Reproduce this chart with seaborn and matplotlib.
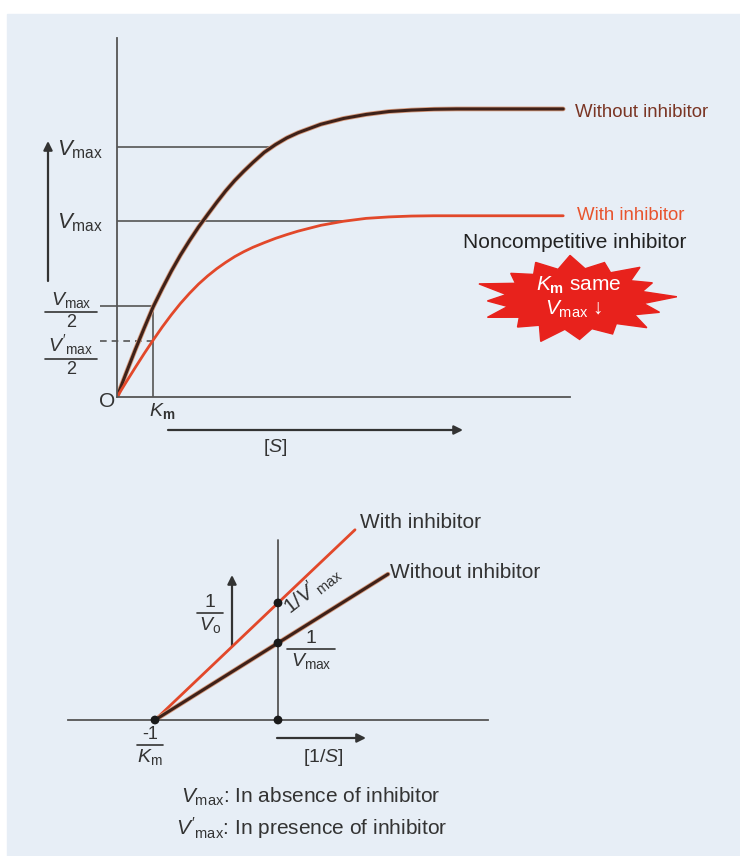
import numpy as np
import pandas as pd
import seaborn as sns
import matplotlib.pyplot as plt
import matplotlib.patches as patches
import matplotlib.patheffects as pe

# Michaelis-Menten curves, values (arbitrary units)
substrate = [0, 0.2, 0.4, 0.6, 0.8, 1.0, 1.2, 1.4, 1.6, 1.8, 2.0, 2.2, 2.4, 2.6, 2.8, 3.0,
             3.25, 3.5, 3.75, 4.0, 4.5, 5.0, 5.5, 6.0, 6.5, 7.0, 7.5, 9.85]
v_without = [0, 0.082, 0.162, 0.238, 0.312, 0.375, 0.435, 0.49, 0.54, 0.587, 0.63, 0.672,
             0.712, 0.748, 0.78, 0.81, 0.845, 0.872, 0.895, 0.913, 0.942, 0.962, 0.976,
             0.986, 0.991, 0.994, 0.995, 0.995]
v_with = [0, 0.051, 0.101, 0.15, 0.197, 0.242, 0.284, 0.323, 0.358, 0.39, 0.418, 0.443,
          0.465, 0.485, 0.502, 0.517, 0.533, 0.548, 0.561, 0.573, 0.593, 0.607, 0.617,
          0.622, 0.625, 0.626, 0.626, 0.626]
vmax_level = 0.862
vmax_i_level = 0.609
half_vmax = 0.314
half_vmax_i = 0.193
km = 0.8

# Lineweaver-Burk lines (1/S, 1/v)
recip_s_without = [-1.0, 0.0, 0.894]
recip_v_without = [0.0, 1.0, 1.894]
recip_s_with = [-1.0, 0.0, 0.626]
recip_v_with = [0.0, 1.52, 2.47]

W, H = 740, 856
DARK = '#3e2119'
RED = '#e2482a'
AX = '#555555'

sns.set_style('white')
plt.rcParams['font.family'] = ['Liberation Sans', 'DejaVu Sans']
plt.rcParams['mathtext.fontset'] = 'custom'
plt.rcParams['mathtext.rm'] = 'Liberation Sans'
plt.rcParams['mathtext.it'] = 'Liberation Sans:italic'
plt.rcParams['mathtext.bf'] = 'Liberation Sans:bold'

fig = plt.figure(figsize=(W / 100, H / 100), dpi=100)
fig.patch.set_facecolor('white')

# overlay in pixel units for background, labels and arrows
bg = fig.add_axes([0, 0, 1, 1])
bg.set_xlim(0, W)
bg.set_ylim(H, 0)
bg.axis('off')
bg.add_patch(patches.Rectangle((7, 14), W - 7, H - 14, color='#e7eef6', zorder=0))


def frac(x, ybar, num, den, half, fs_num=14, fs_den=14, color='#333333'):
    bg.plot([x - half, x + half], [ybar, ybar], color=color, lw=1.2)
    bg.text(x, ybar - 2, num, ha='center', va='bottom', fontsize=fs_num, color=color)
    bg.text(x, ybar + 2, den, ha='center', va='top', fontsize=fs_den, color=color)


def arrow(x0, y0, x1, y1):
    bg.annotate('', xy=(x1, y1), xytext=(x0, y0),
                arrowprops=dict(arrowstyle='-|>', color='#333333', lw=1.6,
                                mutation_scale=13, shrinkA=0, shrinkB=0))


# ---------- top: v vs [S] ----------
ax1 = fig.add_axes([117 / W, (H - 397) / H, 453 / W, 359 / H])
ax1.set_facecolor('none')
ax1.set_xlim(0, 10)
ax1.set_ylim(0, 1.24)
for s in ['top', 'right']:
    ax1.spines[s].set_visible(False)
for s in ['left', 'bottom']:
    ax1.spines[s].set_color(AX)
    ax1.spines[s].set_linewidth(1.3)
ax1.set_xticks([])
ax1.set_yticks([])

ax1.hlines(vmax_level, 0, 3.4, color=AX, lw=1.2)
ax1.hlines(vmax_i_level, 0, 5.0, color=AX, lw=1.2)
ax1.hlines(half_vmax, -0.375, km, color=AX, lw=1.2, clip_on=False)
ax1.hlines(half_vmax_i, -0.375, km, color=AX, lw=1.2, linestyles=(0, (4, 3)), clip_on=False)
ax1.vlines(km, 0, half_vmax, color=AX, lw=1.2)

halo = [pe.Stroke(linewidth=3.4, foreground='#d79a7c'), pe.Normal()]
sns.lineplot(x=substrate, y=v_without, ax=ax1, color=DARK, lw=2.2, sort=False,
             estimator=None, path_effects=halo)
sns.lineplot(x=substrate, y=v_with, ax=ax1, color=RED, lw=2.0, sort=False, estimator=None)

bg.text(80, 150, r'$V_{\rm max}$', ha='center', va='center', fontsize=16, color='#333333')
bg.text(80, 223, r'$V_{\rm max}$', ha='center', va='center', fontsize=16, color='#333333')
arrow(48, 281, 48, 141)
frac(71, 312, r'$V_{\rm max}$', '2', 26, 14, 13)
frac(71, 359, r"$V'_{\rm max}$", '2', 26, 14, 13)
bg.text(107, 401, 'O', ha='center', va='center', fontsize=15, color='#333333')
bg.text(162, 411, r'$K_{\bf m}$', ha='center', va='center', fontsize=14, color='#333333')
arrow(168, 430, 463, 430)
bg.text(275, 447, r'[$S$]', ha='center', va='center', fontsize=14, color='#333333')

bg.text(575, 112, 'Without inhibitor', ha='left', va='center', fontsize=13.4, color='#7a3524')
bg.text(577, 215, 'With inhibitor', ha='left', va='center', fontsize=13.4, color='#e8542e')
bg.text(575, 242, 'Noncompetitive inhibitor', ha='center', va='center', fontsize=15,
        color='#222222')

# starburst
n = 16
outer = [1.0, 0.84, 0.95, 0.86, 0.97, 0.9, 0.85, 1.0, 0.86, 0.95, 0.84, 1.0, 0.9, 0.86,
         0.95, 0.88]
ang = np.linspace(0, 2 * np.pi, 2 * n, endpoint=False) + 0.05
rad = np.empty(2 * n)
rad[0::2] = outer
rad[1::2] = 0.68
pts = np.column_stack([575 + 102 * rad * np.cos(ang), 299 - 45 * rad * np.sin(ang)])
bg.add_patch(patches.Polygon(pts, closed=True, color='#e8221c', zorder=2))
bg.text(579, 285, r'$K_{\bf m}$ same', ha='center', va='center', fontsize=15,
        color='white', zorder=3)
bg.text(574, 309, r'$V_{\rm max}$ ↓', ha='center', va='center', fontsize=15,
        color='white', zorder=3)

# ---------- bottom: Lineweaver-Burk ----------
ax2 = fig.add_axes([68 / W, (H - 720) / H, 420 / W, 200 / H])
ax2.set_facecolor('none')
ax2.set_xlim(-1.707, 1.707)
ax2.set_ylim(0, 2.597)
for s in ['top', 'right', 'left']:
    ax2.spines[s].set_visible(False)
ax2.spines['bottom'].set_color(AX)
ax2.spines['bottom'].set_linewidth(1.3)
ax2.set_xticks([])
ax2.set_yticks([])
ax2.axvline(0, ymin=0, ymax=2.34 / 2.597, color=AX, lw=1.3)

sns.lineplot(x=recip_s_with, y=recip_v_with, ax=ax2, color=RED, lw=2.0, sort=False,
             estimator=None)
sns.lineplot(x=recip_s_without, y=recip_v_without, ax=ax2, color=DARK, lw=2.2, sort=False,
             estimator=None, path_effects=halo)
dots = pd.DataFrame({'x': [recip_s_with[0], recip_s_with[1], recip_s_without[1], recip_s_with[1]],
                     'y': [recip_v_with[0], 0.0, recip_v_without[1], recip_v_with[1]]})
sns.scatterplot(data=dots, x='x', y='y', ax=ax2, color='#1a1a1a', s=40, edgecolor='none',
                zorder=5, clip_on=False)

bg.text(360, 523, 'With inhibitor', ha='left', va='center', fontsize=15, color='#333333')
bg.text(390, 572, 'Without inhibitor', ha='left', va='center', fontsize=15, color='#333333')
arrow(232, 646, 232, 575)
frac(210, 613, '1', r'$V_{\rm o}$', 13, 14, 14)
bg.text(312, 590, r"$1/V'_{\rm max}$", ha='center', va='center', fontsize=15, rotation=38,
        color='#333333')
frac(311, 649, '1', r'$V_{\rm max}$', 24, 14, 14)
frac(150, 745, '-1', r'$K_{\rm m}$', 13, 13, 14)
arrow(277, 738, 366, 738)
bg.text(323, 757, r'[1/$S$]', ha='center', va='center', fontsize=14, color='#333333')

bg.text(311, 797, r'$V_{\rm max}$: In absence of inhibitor', ha='center', va='center',
        fontsize=15, color='#333333')
bg.text(312, 828, r"$V'_{\rm max}$: In presence of inhibitor", ha='center', va='center',
        fontsize=15, color='#333333')

fig.savefig('out.png', dpi=100)
